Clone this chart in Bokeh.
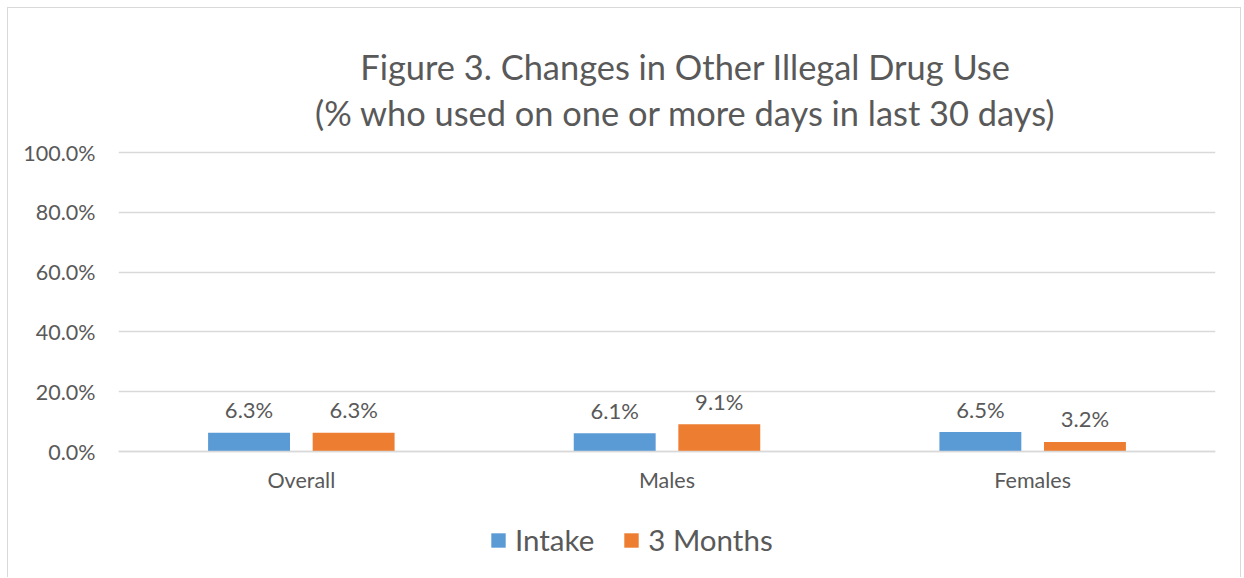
from bokeh.plotting import figure
from bokeh.models import (Range1d, FixedTicker, NumeralTickFormatter, Label,
                          Legend, LegendItem, ColumnDataSource)
from bokeh.core.properties import value
from bokeh.embed import file_html
from bokeh.resources import INLINE

title_lines = ["Figure 3. Changes in Other Illegal Drug Use",
               "(% who used on one or more days in last 30 days)"]
categories = ["Overall", "Males", "Females"]
series_names = ["Intake", "3 Months"]
intake = [6.3, 6.1, 6.5]
three_months = [6.3, 9.1, 3.2]
y_ticks = [0.0, 0.2, 0.4, 0.6, 0.8, 1.0]

FONT = "Lato"
TXT = "#595959"
GRID = "#D9D9D9"
BLUE = "#5B9BD5"
ORANGE = "#ED7D31"

# frame spans the full canvas height; 0 -> page y 451, 1.0 -> page y 152
PX = 299.0
y0 = -(578 - 451) / PX
y1 = (451 - 8) / PX

p = figure(width=1234, height=570, output_backend="svg", toolbar_location=None,
           x_range=Range1d(0, len(categories)), y_range=Range1d(y0, y1),
           min_border_left=110, min_border_right=27, min_border_top=0,
           min_border_bottom=0, margin=(7, 0, 0, 7))
p.styles = {"border-top": "1px solid #D9D9D9", "border-left": "1px solid #D9D9D9",
            "border-right": "1px solid #D9D9D9"}
p.outline_line_color = None
p.background_fill_color = "white"
p.border_fill_color = "white"

centers = [i + 0.5 for i in range(len(categories))]
off = 0.143
bw = 0.224
src1 = ColumnDataSource(dict(x=[c - off for c in centers], top=[v / 100 for v in intake],
                             lab=[f"{v:.1f}%" for v in intake]))
src2 = ColumnDataSource(dict(x=[c + off for c in centers], top=[v / 100 for v in three_months],
                             lab=[f"{v:.1f}%" for v in three_months]))
r1 = p.vbar(x="x", top="top", bottom=0, width=bw, source=src1, fill_color=BLUE, line_color=None)
r2 = p.vbar(x="x", top="top", bottom=0, width=bw, source=src2, fill_color=ORANGE, line_color=None)
for s in (src1, src2):
    p.text(x="x", y="top", text="lab", source=s, text_align="center", text_baseline="alphabetic",
           y_offset=-23, text_font=value(FONT), text_font_size="22px", text_color=TXT)

p.xgrid.grid_line_color = None
p.ygrid.grid_line_color = GRID
p.ygrid.grid_line_width = 1.5
p.yaxis.ticker = FixedTicker(ticks=y_ticks)
p.yaxis.formatter = NumeralTickFormatter(format="0.0%")
p.yaxis.axis_line_color = None
p.yaxis.major_tick_line_color = None
p.yaxis.minor_tick_line_color = None
p.yaxis.major_label_standoff = 17
p.xaxis.fixed_location = 0
p.xaxis.ticker = FixedTicker(ticks=centers)
p.xaxis.major_label_overrides = {c: n for c, n in zip(centers, categories)}
p.xaxis.axis_line_color = GRID
p.xaxis.axis_line_width = 1.5
p.xaxis.major_tick_line_color = None
p.xaxis.minor_tick_line_color = None
p.xaxis.major_label_standoff = 9
for ax in (p.xaxis, p.yaxis):
    ax.major_label_text_font = FONT
    ax.major_label_text_font_size = "21.5px"
    ax.major_label_text_color = TXT

title_x = (685 - 118) / 1097 * len(categories)
for t, base in zip(title_lines, [66, 112]):
    p.add_layout(Label(x=title_x, y=(451 - base) / PX, text=t, text_align="center",
                       text_baseline="alphabetic", text_font=FONT, text_font_size="34.4px",
                       text_color=TXT))

legend = Legend(items=[LegendItem(label=series_names[0], renderers=[r1]),
                       LegendItem(label=series_names[1], renderers=[r2])],
                orientation="horizontal", location=(371, 21),
                glyph_width=18, glyph_height=18, label_standoff=8, spacing=28,
                padding=0, margin=0, border_line_color=None, background_fill_alpha=0,
                label_text_font=FONT, label_text_font_size="29.5px", label_text_color=TXT)
p.add_layout(legend, "center")

open("out.html", "w").write(file_html(p, INLINE))
